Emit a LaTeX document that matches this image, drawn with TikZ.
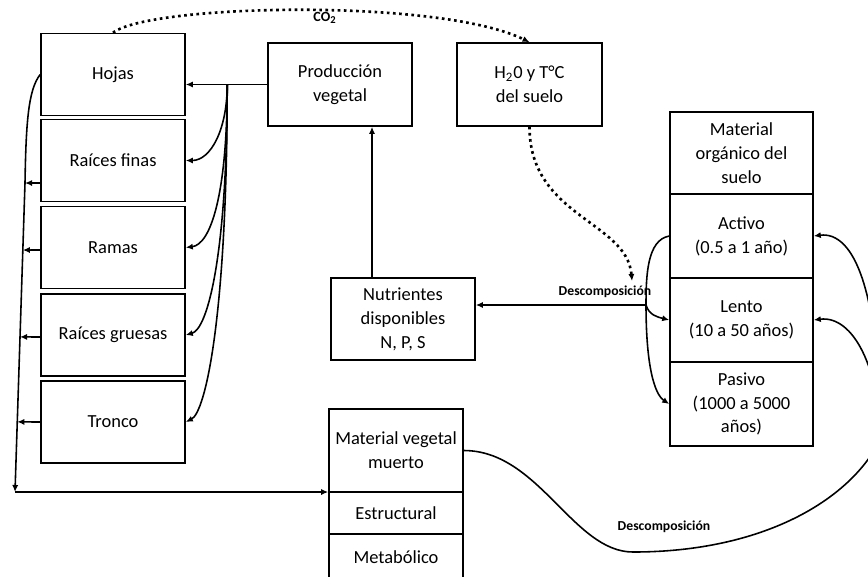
\documentclass[tikz,border=0pt]{standalone}
\usepackage{fontspec}
\setmainfont{Carlito}
\usetikzlibrary{arrows.meta,calc}

\tikzset{
    caja/.style={draw, line width=0.9pt, align=center, inner sep=1pt,
        minimum width=2.88cm, minimum height=1.64cm,
        font=\fontsize{10.5}{13.6}\selectfont},
    linea/.style={line width=0.9pt},
    flecha/.style={linea, -{Latex[length=4pt,width=3.5pt]}},
    punteada/.style={-{Latex[length=4pt,width=3.5pt]}, line width=1.5pt, dotted},
    etiqueta/.style={font=\fontsize{7.8}{9}\selectfont\bfseries, inner sep=1pt}
}

\begin{document}
\begin{tikzpicture}[x=0.02cm, y=-0.02cm]
    \useasboundingbox (0,0) rectangle (868,576);
    \clip (0,0) rectangle (868,576);

    % planta
    \node[caja] (hojas) at (113,74.5) {Hojas};
    \node[caja] (finas) at (113,160.5) {Raíces finas};
    \node[caja] (ramas) at (113,247.5) {Ramas};
    \node[caja] (gruesas) at (113,335) {Raíces gruesas};
    \node[caja] (tronco) at (113,422) {Tronco};

    \node[caja, minimum height=1.66cm] (prod) at (340,84.5) {Producción\\vegetal};
    \node[caja, minimum height=1.66cm, minimum width=2.9cm] (suelo) at (529.5,84.5)
        {H\textsubscript{2}0 y T°C\\del suelo};
    \node[caja] (nutri) at (403,319) {Nutrientes\\disponibles\\N, P, S};

    % material organico del suelo
    \node[caja, minimum width=2.86cm] (mos) at (741.5,153) {Material\\orgánico del\\suelo};
    \node[caja, minimum width=2.86cm, minimum height=1.68cm] (activo) at (741.5,236)
        {Activo\\(0.5 a 1 año)};
    \node[caja, minimum width=2.86cm, minimum height=1.68cm] (lento) at (741.5,320)
        {Lento\\(10 a 50 años)};
    \node[caja, minimum width=2.86cm, minimum height=1.68cm] (pasivo) at (741.5,404)
        {Pasivo\\(1000 a 5000\\años)};

    % material vegetal muerto
    \node[caja, minimum width=2.68cm, minimum height=1.66cm] (mvm) at (396,450.5)
        {Material vegetal\\muerto};
    \node[caja, minimum width=2.68cm, minimum height=0.84cm] (estructural) at (396,513)
        {Estructural};
    \node[caja, minimum width=2.68cm, minimum height=0.92cm] (metabolico) at (396,557)
        {Metabólico};

    % etiquetas
    \node[etiqueta, font=\fontsize{8}{9}\selectfont\bfseries] (co2) at (325,18) {CO\textsubscript{2}};
    \node[etiqueta] (desc1) at (605,292) {Descomposición};
    \node[etiqueta] (desc2) at (664,527) {Descomposición};

    % puntos auxiliares
    \coordinate (nudo) at ($(prod.west)+(-40,0)$);
    \coordinate (codo) at (25,183);
    \coordinate (baja) at (15,492);
    \coordinate (desc) at (646,305);
    \coordinate (llega) at (632,281);
    \coordinate (valle) at (633,552);
    \coordinate (giro) at (880,440);

    % CO2 y agua
    \draw[punteada] (hojas.north) .. controls (150,4) and (440,-2) .. (suelo.north);
    \draw[punteada] (suelo.south) .. controls +(0,90) and +(-5,-60) .. (llega);

    % produccion vegetal a los organos
    \draw[flecha] (prod.west) -- (nudo) -- (nudo -| hojas.east);
    \draw[flecha] (nudo) .. controls +(0,45) and +(25,0) .. (finas.east);
    \draw[flecha] (nudo) .. controls +(0,110) and +(25,-3) .. (ramas.east);
    \draw[flecha] (nudo) .. controls +(0,170) and +(22,-6) .. (gruesas.east);
    \draw[flecha] (nudo) .. controls +(0,230) and +(20,-10) .. (tronco.east);

    % caida de material muerto
    \draw[flecha] (hojas.west) .. controls +(-12,15) and +(1,-60) .. (codo) -- (baja);
    \draw[flecha] ($(finas.west)+(0,22.5)$) -- (codo);
    \draw[flecha] ($(ramas.west)+(0,2.5)$) -- ($(codo)!0.217!(baja)$);
    \draw[flecha] ($(gruesas.west)+(0,2)$) -- ($(codo)!0.498!(baja)$);
    \draw[flecha] (tronco.west) -- ($(codo)!0.773!(baja)$);
    \draw[flecha] (baja) -- (baja -| mvm.west);

    % nutrientes
    \draw[flecha] ([xshift=-0.62cm]nutri.north) -- ([xshift=-0.62cm]nutri.north |- prod.south);
    \draw[flecha] (desc) -- (desc -| nutri.east);
    \draw[linea] (activo.west) .. controls +(-22,4) and +(0,-30) .. (desc);
    \draw[flecha] (desc) .. controls +(3,10) and +(-12,-3) .. (lento.west);
    \draw[flecha] (desc) .. controls +(0,60) and +(-15,-10) .. (pasivo.west);

    % descomposicion del material vegetal muerto
    \draw[linea] (mvm.east) .. controls +(75,0) and +(-60,0) .. (valle)
        .. controls +(130,0) and +(-30,60) .. (giro);
    \draw[flecha] (giro) .. controls +(0,-150) and +(40,-5) .. (activo.east);
    \draw[flecha] (giro) .. controls +(0,-70) and +(40,-5) .. (lento.east);
\end{tikzpicture}
\end{document}
